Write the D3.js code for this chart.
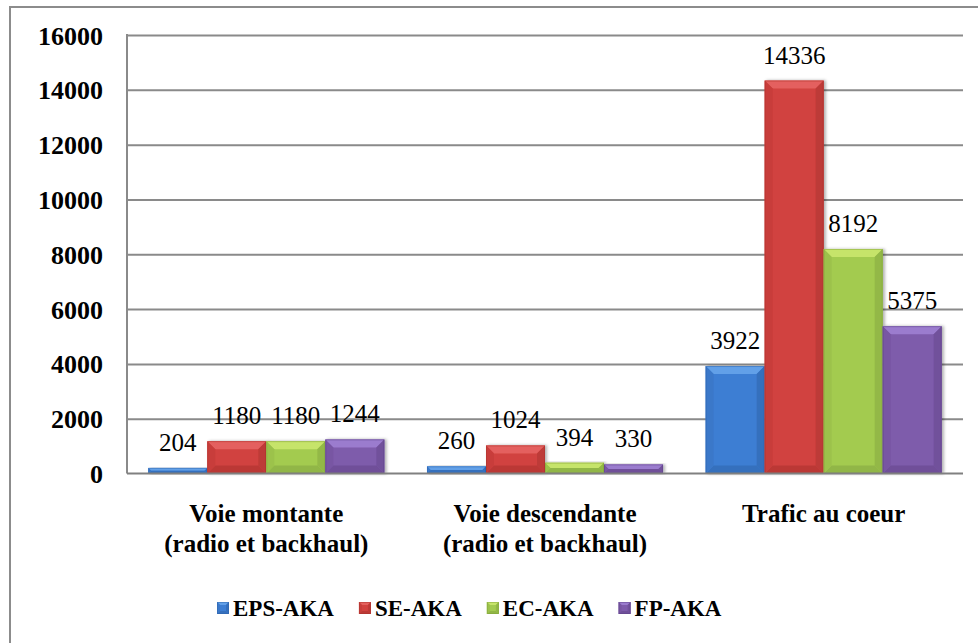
<!DOCTYPE html>
<html lang="fr">
<head>
<meta charset="utf-8">
<script src="https://cdn.jsdelivr.net/npm/d3@7/dist/d3.min.js"></script>
<style>
  @font-face { font-family: "ChartSerif"; font-weight: 400; src: local("Liberation Serif"), local("LiberationSerif"), local("Tinos"); }
  @font-face { font-family: "ChartSerif"; font-weight: 700; src: local("Liberation Serif Bold"), local("LiberationSerif-Bold"), local("Tinos Bold"); }
  html, body { margin: 0; padding: 0; background: #fff; }
  svg { display: block; }
  .serif { font-family: "Times New Roman", "Liberation Serif", Tinos, ChartSerif, serif !important; }
</style>
</head>
<body>
<script>
// Categories and series
const categories = [
  ["Voie montante", "(radio et backhaul)"],
  ["Voie descendante", "(radio et backhaul)"],
  ["Trafic au coeur"]
];
const seriesNames = ["EPS-AKA", "SE-AKA", "EC-AKA", "FP-AKA"];
const epsAka = [204, 260, 3922];
const seAka  = [1180, 1024, 14336];
const ecAka  = [1180, 394, 8192];
const fpAka  = [1244, 330, 5375];
const seriesValues = [epsAka, seAka, ecAka, fpAka];
const yTicks = [0, 2000, 4000, 6000, 8000, 10000, 12000, 14000, 16000];

// Bevel palette per series: main face, top edge, bottom edge, left edge, right edge
const palette = [
  { main: "#3d7ed3", top: "#62a0e8", bottom: "#3670bd", left: "#3a78c9", right: "#346fbd", line: "#2c62a9" },
  { main: "#d1423f", top: "#e4615e", bottom: "#bb3936", left: "#c83e3b", right: "#bd3a37", line: "#a9302d" },
  { main: "#a3cb50", top: "#c6e46a", bottom: "#91b646", left: "#9cc24c", right: "#93b847", line: "#7f9f37" },
  { main: "#7e5bab", top: "#9b7cce", bottom: "#6f4f99", left: "#7856a3", right: "#71519b", line: "#5c4185" }
];

const W = 978, H = 643;
const plot = { left: 127, right: 963, top: 35, bottom: 473.5 };

const svg = d3.select("body").append("svg")
  .attr("width", W).attr("height", H);

const defs = svg.append("defs");
const shadow = defs.append("filter").attr("id", "barShadow")
  .attr("x", "-10%").attr("y", "-10%").attr("width", "130%").attr("height", "120%");
shadow.append("feDropShadow")
  .attr("dx", 2).attr("dy", 0).attr("stdDeviation", 1.4)
  .attr("flood-color", "#000").attr("flood-opacity", 0.3);

// Outer frame (left and top edges)
svg.append("path")
  .attr("d", `M10,${H} L10,7 L${W},7`)
  .attr("fill", "none").attr("stroke", "#8c8c8c").attr("stroke-width", 2);

// Scales
const x0 = d3.scaleBand()
  .domain(d3.range(categories.length))
  .range([plot.left, plot.right])
  .paddingInner(0.153).paddingOuter(0.0765);
const x1 = d3.scaleBand()
  .domain(d3.range(seriesNames.length))
  .range([0, x0.bandwidth()])
  .padding(0);
const y = d3.scaleLinear().domain([0, 16000]).range([plot.bottom, plot.top]);

// Gridlines
const grid = svg.append("g")
  .attr("transform", `translate(${plot.left},0)`)
  .call(d3.axisLeft(y).tickValues(yTicks).tickFormat("")
    .tickSize(-(plot.right - plot.left)));
grid.select(".domain").remove();
grid.selectAll(".tick line")
  .attr("stroke", "#8a8a8a").attr("stroke-width", 2)
  .filter(d => d === 0).remove();

// Y tick labels
const yAxis = svg.append("g")
  .attr("transform", `translate(${plot.left},0)`)
  .call(d3.axisLeft(y).tickValues(yTicks).tickFormat(d3.format("d"))
    .tickSize(0).tickPadding(24));
yAxis.attr("font-family", null).attr("font-size", null);
yAxis.select(".domain").remove();
yAxis.selectAll("text")
  .attr("class", "serif")
  .attr("font-weight", "bold")
  .attr("font-size", 26).attr("fill", "#000")
  .attr("dy", "0.35em");

// Bars with a bevelled face
function bevelBar(g, x, yTop, w, h, c, maxB) {
  const b = Math.min(maxB, h / 2, w / 2);
  const x2 = x + w, y2 = yTop + h;
  g.append("rect").attr("x", x).attr("y", yTop).attr("width", w).attr("height", h)
    .attr("fill", c.main);
  const poly = (pts, fill) => g.append("polygon")
    .attr("points", pts.map(p => p.join(",")).join(" ")).attr("fill", fill);
  poly([[x, yTop], [x2, yTop], [x2 - b, yTop + b], [x + b, yTop + b]], c.top);
  poly([[x, y2], [x2, y2], [x2 - b, y2 - b], [x + b, y2 - b]], c.bottom);
  poly([[x, yTop], [x + b, yTop + b], [x + b, y2 - b], [x, y2]], c.left);
  poly([[x2, yTop], [x2 - b, yTop + b], [x2 - b, y2 - b], [x2, y2]], c.right);
  g.append("rect").attr("x", x + 0.5).attr("y", yTop + 0.5)
    .attr("width", Math.max(0, w - 1)).attr("height", Math.max(0, h - 1))
    .attr("fill", "none").attr("stroke", c.line).attr("stroke-opacity", 0.45);
}

const barsLayer = svg.append("g");
categories.forEach((cat, ci) => {
  seriesValues.forEach((vals, si) => {
    const v = vals[ci];
    const bx = x0(ci) + x1(si);
    const by = y(v);
    const g = barsLayer.append("g").attr("filter", "url(#barShadow)");
    bevelBar(g, bx, by, x1.bandwidth(), y(0) - by, palette[si], 8);
  });
});

// Axis lines
svg.append("line")
  .attr("x1", plot.left).attr("x2", plot.left)
  .attr("y1", plot.top - 1).attr("y2", plot.bottom)
  .attr("stroke", "#8a8a8a").attr("stroke-width", 2);
svg.append("line")
  .attr("x1", plot.left).attr("x2", plot.right)
  .attr("y1", plot.bottom).attr("y2", plot.bottom)
  .attr("stroke", "#808080").attr("stroke-width", 2);

// Value labels
const labels = svg.append("g");
categories.forEach((cat, ci) => {
  seriesValues.forEach((vals, si) => {
    const v = vals[ci];
    labels.append("text")
      .attr("class", "serif")
      .attr("x", x0(ci) + x1(si) + x1.bandwidth() / 2)
      .attr("y", y(v) - 17)
      .attr("text-anchor", "middle").attr("fill", "#000")
      .attr("font-size", 25)
      .text(v);
  });
});

// Category labels
const catG = svg.append("g");
categories.forEach((lines, ci) => {
  const cx = x0(ci) + x0.bandwidth() / 2;
  const t = catG.append("text").attr("class", "serif").attr("x", cx).attr("y", 522)
    .attr("text-anchor", "middle").attr("fill", "#000")
    .attr("font-size", 25).attr("font-weight", "bold");
  lines.forEach((ln, li) => {
    t.append("tspan").attr("x", cx).attr("dy", li === 0 ? 0 : 30).text(ln);
  });
});

// Legend
const legend = svg.append("g");
let lx = 217;
const legendY = 616;
seriesNames.forEach((name, si) => {
  const g = legend.append("g");
  bevelBar(g, lx, legendY - 14, 12, 12, palette[si], 3);
  const t = g.append("text").attr("class", "serif")
    .attr("x", lx + 16).attr("y", legendY).attr("fill", "#000")
    .attr("font-size", 23).attr("font-weight", "bold")
    .text(name);
  lx += 16 + t.node().getComputedTextLength() + 25;
});
</script>
</body>
</html>
